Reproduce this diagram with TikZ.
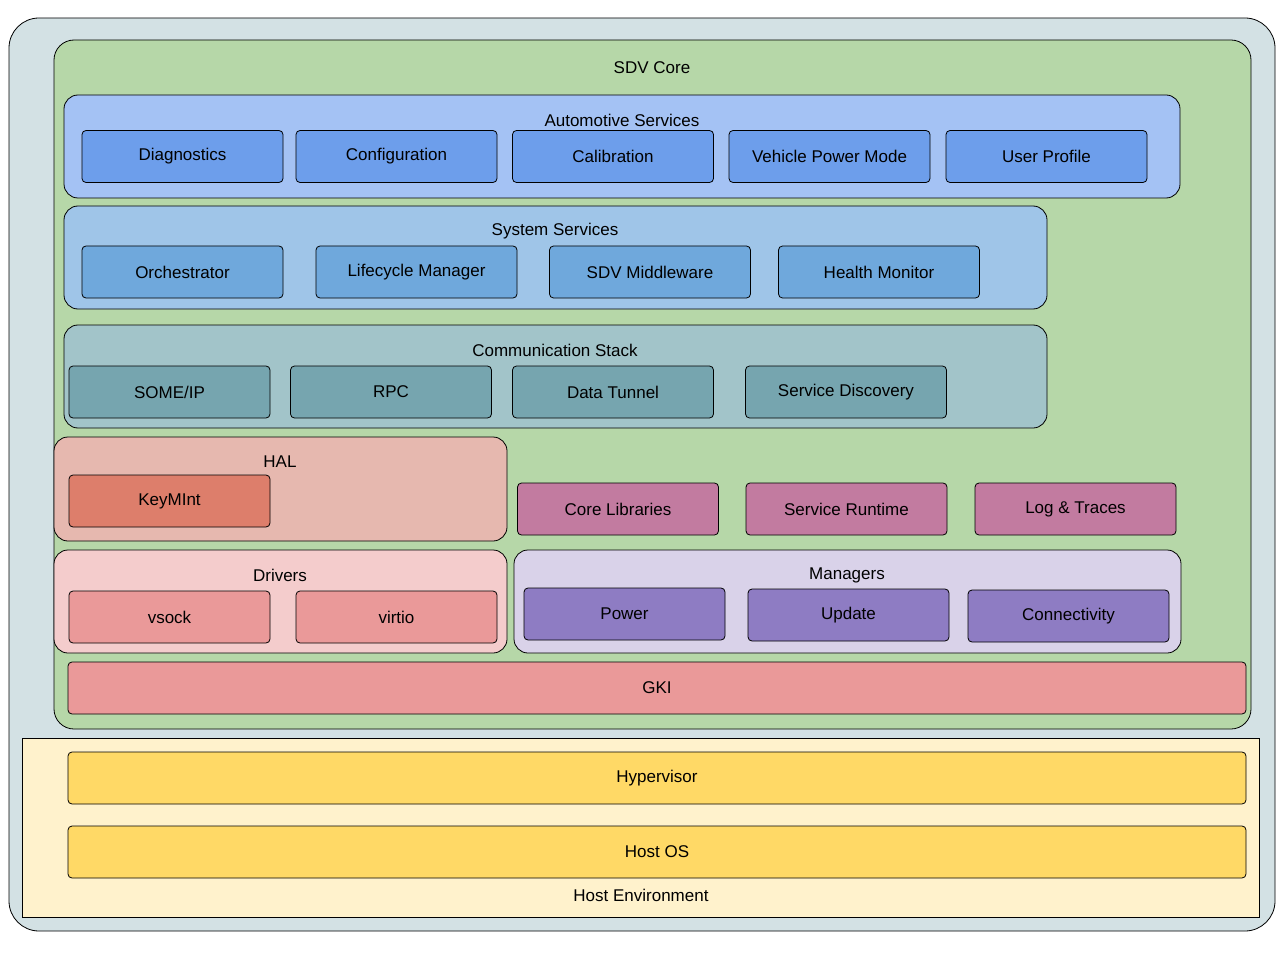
\documentclass[tikz,border=0pt]{standalone}
\usepackage{fontspec}
\setmainfont{Liberation Sans}
\usepackage{xcolor}
\definecolor{outerbg}{HTML}{D3E1E4}
\definecolor{coregreen}{HTML}{B6D7A8}
\definecolor{autobg}{HTML}{A4C2F4}
\definecolor{autobox}{HTML}{6D9EEB}
\definecolor{sysbg}{HTML}{9FC5E8}
\definecolor{sysbox}{HTML}{6FA8DC}
\definecolor{commbg}{HTML}{A2C4C9}
\definecolor{commbox}{HTML}{76A5AF}
\definecolor{halbg}{HTML}{E6B8AF}
\definecolor{halbox}{HTML}{DD7E6B}
\definecolor{libbox}{HTML}{C27BA0}
\definecolor{drvbg}{HTML}{F4CCCC}
\definecolor{drvbox}{HTML}{EA9999}
\definecolor{mgrbg}{HTML}{D9D2E9}
\definecolor{mgrbox}{HTML}{8E7CC3}
\definecolor{hostbg}{HTML}{FFF2CC}
\definecolor{hostbox}{HTML}{FFD966}

\begin{document}
\begin{tikzpicture}[x=1pt,y=-1pt,line width=0.8pt,
  font=\fontsize{17}{20}\selectfont,
  group/.style={draw,rounded corners=14pt},
  box/.style={draw,rounded corners=4pt,minimum width=201pt,minimum height=52pt,inner sep=0pt}]
\useasboundingbox (0,0) rectangle (1280,960);

% layers
\draw [group,fill=outerbg,rounded corners=30pt] (9,18) rectangle (1275,931);
\draw [group,fill=coregreen,rounded corners=20pt] (54,40) rectangle (1251,729);
\node (core) at (652,68) {SDV Core};

\draw [group,fill=autobg] (64,95) rectangle (1180,198);
\node (auto) at (622,120) {Automotive Services};
\node[box,fill=autobox] (diag) at (182.5,156.5) {Diagnostics};
\node[box,fill=autobox] (conf) at (396.5,156.5) {Configuration};
\node[box,fill=autobox] (cali) at (613,156.5) {Calibration};
\node[box,fill=autobox] (vpm) at (829.5,156.5) {Vehicle Power Mode};
\node[box,fill=autobox] (user) at (1046.5,156.5) {User Profile};

\draw [group,fill=sysbg] (64,206) rectangle (1047,309);
\node (sys) at (555,231) {System Services};
\node[box,fill=sysbox] (orch) at (182.5,272) {Orchestrator};
\node[box,fill=sysbox] (life) at (416.5,272) {Lifecycle Manager};
\node[box,fill=sysbox] (mid) at (650,272) {SDV Middleware};
\node[box,fill=sysbox] (health) at (879,272) {Health Monitor};

\draw [group,fill=commbg] (64,325) rectangle (1047,428);
\node (comm) at (555,350) {Communication Stack};
\node[box,fill=commbox] (someip) at (169.5,392) {SOME/IP};
\node[box,fill=commbox] (rpc) at (391,392) {RPC};
\node[box,fill=commbox] (tunnel) at (613,392) {Data Tunnel};
\node[box,fill=commbox] (disc) at (846,392) {Service Discovery};

\draw [group,fill=halbg] (54,437) rectangle (507,541);
\node (hal) at (280,462) {HAL};
\node[box,fill=halbox] (keymint) at (169.5,501) {KeyMInt};

\node[box,fill=libbox] (corelib) at (618,509) {Core Libraries};
\node[box,fill=libbox] (runtime) at (846.5,509) {Service Runtime};
\node[box,fill=libbox] (log) at (1075.5,509) {Log \& Traces};

\draw [group,fill=drvbg] (54,550) rectangle (507,653);
\node (drv) at (280,575) {Drivers};
\node[box,fill=drvbox] (vsock) at (169.5,617) {vsock};
\node[box,fill=drvbox] (virtio) at (396.5,617) {virtio};

\draw [group,fill=mgrbg] (514,550) rectangle (1181,653);
\node (mgr) at (847,575) {Managers};
\node[box,fill=mgrbox] (power) at (624.5,614) {Power};
\node[box,fill=mgrbox] (update) at (848.5,615) {Update};
\node[box,fill=mgrbox] (conn) at (1068.5,616) {Connectivity};

\node[box,fill=drvbox,minimum width=1178pt] (gki) at (657,688) {GKI};

% host
\draw [fill=hostbg] (22,738) rectangle (1259,917);
\node[box,fill=hostbox,minimum width=1178pt] (hyp) at (657,778) {Hypervisor};
\node[box,fill=hostbox,minimum width=1178pt] (hostos) at (657,852) {Host OS};
\node (hostenv) at (641,895) {Host Environment};
\end{tikzpicture}
\end{document}
